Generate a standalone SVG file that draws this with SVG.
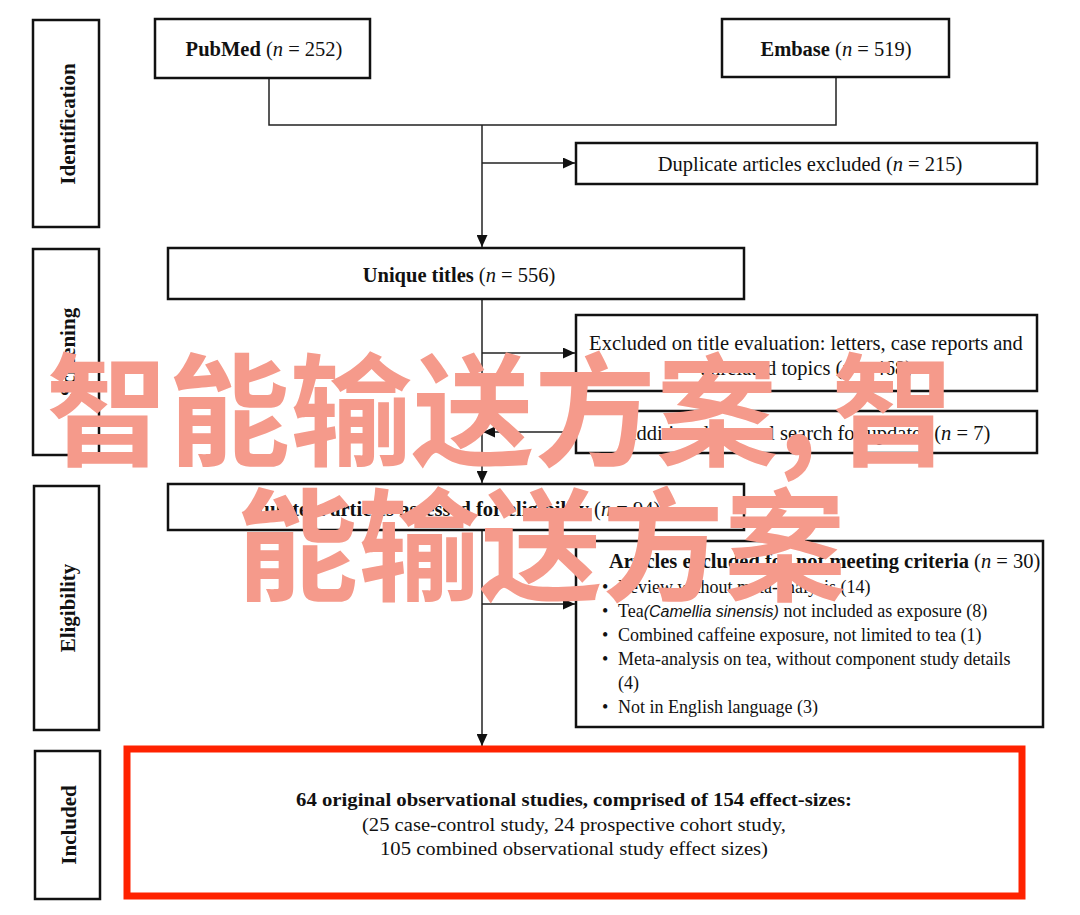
<svg xmlns="http://www.w3.org/2000/svg" width="1080" height="915" viewBox="0 0 1080 915">
<style>
.box{fill:#fff;stroke:#111;stroke-width:2.5}
.red{fill:#fff;stroke:#ff2200;stroke-width:7}
.conn{fill:none;stroke:#222;stroke-width:1.5}
.t{font-family:"Liberation Serif","Times New Roman",serif;fill:#111;font-size:20.5px}
.c{text-anchor:middle}
.b{font-weight:bold}
.i{font-style:italic}
.bl{font-size:18px}
.inc{font-size:19px}
.sans{font-family:"Liberation Sans",Arial,sans-serif;font-style:italic;font-size:16px}
.side{font-family:"Liberation Serif","Times New Roman",serif;font-weight:bold;font-size:21px;fill:#111;text-anchor:middle}
.wm{font-family:"Noto Sans CJK SC","Noto Sans CJK JP",sans-serif;font-weight:bold;fill:#F59A8B;font-size:122px}
</style>
<defs>
<marker id="arr" markerUnits="userSpaceOnUse" markerWidth="13" markerHeight="11" refX="12" refY="5.5" orient="auto">
<path d="M0,0 L12,5.5 L0,11 Z" fill="#111"/>
</marker>
</defs>
<rect width="1080" height="915" fill="#fff"/>

<g id="connectors">
<path class="conn" d="M269,78 V125 H836 V77"/>
<path class="conn" d="M482,125 V247" marker-end="url(#arr)"/>
<path class="conn" d="M482,163 H575" marker-end="url(#arr)"/>
<path class="conn" d="M482,299 V483" marker-end="url(#arr)"/>
<path class="conn" d="M482,353 H575" marker-end="url(#arr)"/>
<path class="conn" d="M576,432 H483" marker-end="url(#arr)"/>
<path class="conn" d="M482,530 V746" marker-end="url(#arr)"/>
<path class="conn" d="M482,604 H575" marker-end="url(#arr)"/>
</g>

<g id="stage-identification">
<rect class="box" x="33" y="20" width="66" height="207"/>
<text class="side" transform="translate(75,124) rotate(-90)">Identification</text>
</g>
<g id="stage-screening">
<rect class="box" x="33" y="249" width="66" height="206"/>
<text class="side" transform="translate(75,352) rotate(-90)">Screening</text>
</g>
<g id="stage-eligibility">
<rect class="box" x="34" y="486" width="65" height="244"/>
<text class="side" transform="translate(75,608) rotate(-90)">Eligibility</text>
</g>
<g id="stage-included">
<rect class="box" x="35" y="751" width="65" height="148"/>
<text class="side" transform="translate(76,825) rotate(-90)">Included</text>
</g>

<g id="pubmed">
<rect class="box" x="155" y="19" width="215" height="59"/>
<text class="t c" x="264" y="56"><tspan class="b">PubMed</tspan> (<tspan class="i">n</tspan> = 252)</text>
</g>
<g id="embase">
<rect class="box" x="722" y="19" width="227" height="58"/>
<text class="t c" x="836" y="56"><tspan class="b">Embase</tspan> (<tspan class="i">n</tspan> = 519)</text>
</g>
<g id="duplicates">
<rect class="box" x="576" y="143" width="461" height="41"/>
<text class="t c" x="810" y="171">Duplicate articles excluded (<tspan class="i">n</tspan> = 215)</text>
</g>
<g id="unique">
<rect class="box" x="168" y="248" width="576" height="51"/>
<text class="t c" x="459" y="282"><tspan class="b">Unique titles</tspan> (<tspan class="i">n</tspan> = 556)</text>
</g>
<g id="excluded-title">
<rect class="box" x="576" y="315" width="461" height="76"/>
<text class="t c" x="806" y="350">Excluded on title evaluation: letters, case reports and</text>
<text class="t c" x="806" y="375">unrelated topics (<tspan class="i">n</tspan> = 468)</text>
</g>
<g id="additional">
<rect class="box" x="576" y="411" width="461" height="42"/>
<text class="t c" x="806" y="440">Additional manual search for updates (<tspan class="i">n</tspan> = 7)</text>
</g>
<g id="fulltext">
<rect class="box" x="168" y="484" width="576" height="46"/>
<text class="t c" x="456" y="516"><tspan class="b">Full text articles assessed for eligibility</tspan> (<tspan class="i">n</tspan> = 94)</text>
</g>
<g id="excluded-criteria">
<rect class="box" x="576" y="541" width="467" height="186"/>
<text class="t" x="609" y="568"><tspan class="b">Articles excluded for not meeting criteria</tspan> (<tspan class="i">n</tspan> = 30)</text>
<text class="t bl" x="602" y="593">•</text><text class="t bl" x="618" y="593">Review without meta-analysis (14)</text>
<text class="t bl" x="602" y="617">•</text><text class="t bl" x="618" y="617">Tea<tspan class="sans">(Camellia sinensis)</tspan> not included as exposure (8)</text>
<text class="t bl" x="602" y="641">•</text><text class="t bl" x="618" y="641">Combined caffeine exposure, not limited to tea (1)</text>
<text class="t bl" x="602" y="665">•</text><text class="t bl" x="618" y="665">Meta-analysis on tea, without component study details</text>
<text class="t bl" x="618" y="689">(4)</text>
<text class="t bl" x="602" y="713">•</text><text class="t bl" x="618" y="713">Not in English language (3)</text>
</g>
<g id="included">
<rect class="red" x="127" y="749" width="895" height="147"/>
<text class="t c b inc" x="574" y="806" textLength="556" lengthAdjust="spacingAndGlyphs">64 original observational studies, comprised of 154 effect-sizes:</text>
<text class="t c inc" x="574" y="831" textLength="424" lengthAdjust="spacingAndGlyphs">(25 case-control study, 24 prospective cohort study,</text>
<text class="t c inc" x="574" y="855" textLength="388" lengthAdjust="spacingAndGlyphs">105 combined observational study effect sizes)</text>
</g>

<g id="watermark">
<text class="wm" x="46" y="456">智能输送方案,<tspan dx="14">智</tspan></text>
<text class="wm" x="236" y="591">能输送方案</text>
</g>
</svg>
